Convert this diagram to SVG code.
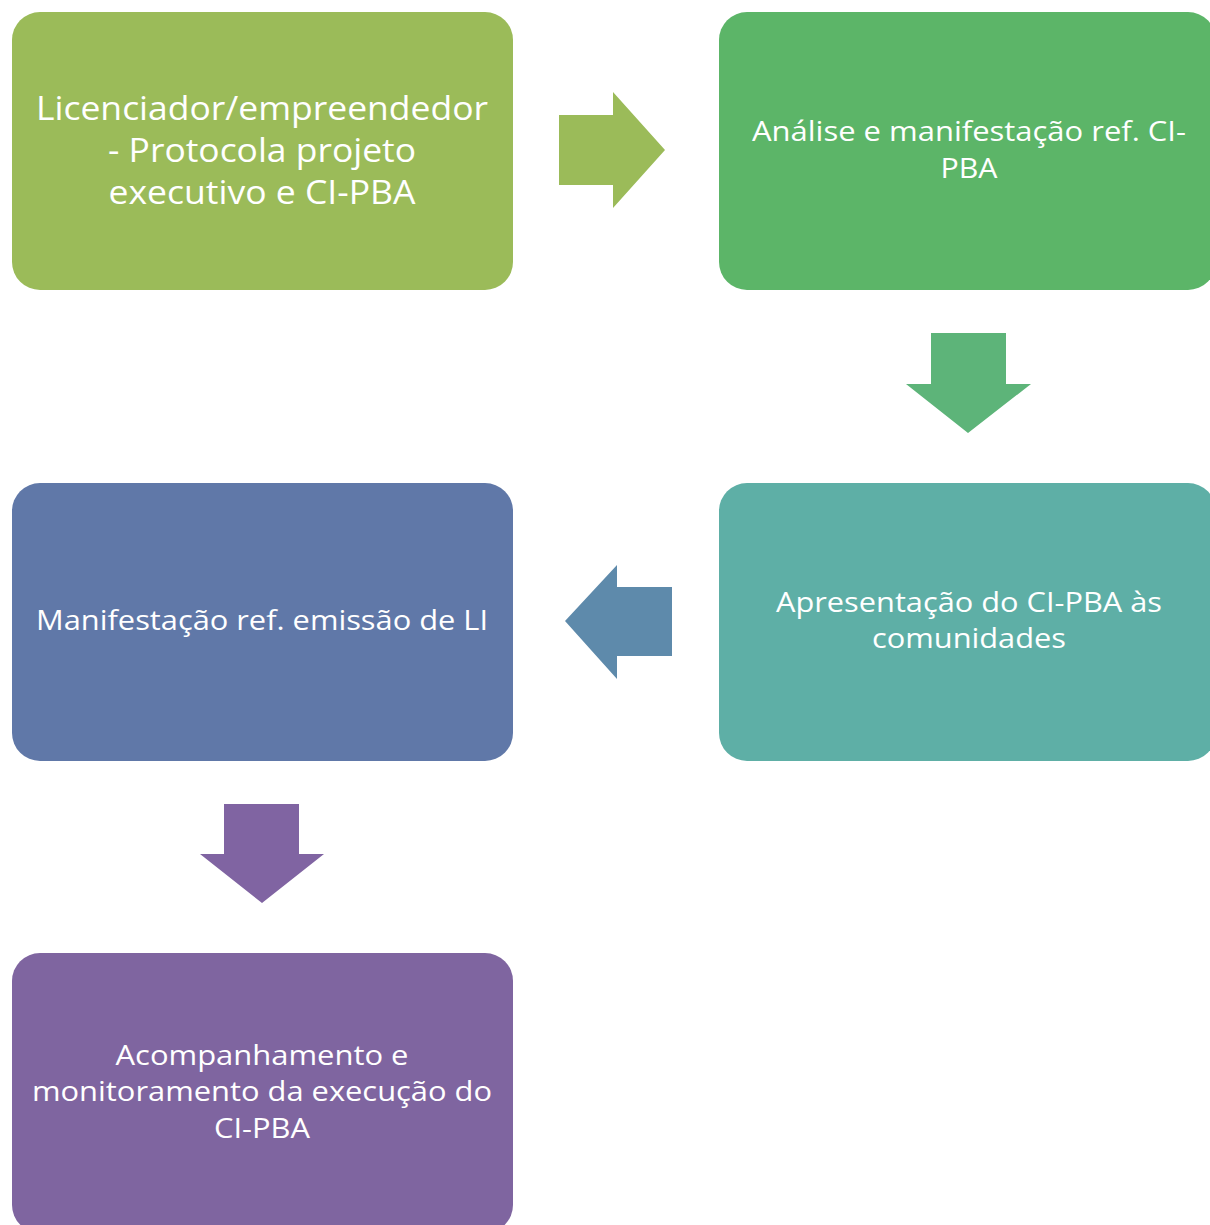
<svg xmlns="http://www.w3.org/2000/svg" width="1210" height="1225" viewBox="0 0 1210 1225">
<style>
.lbl{font-family:"Open Sans","Noto Sans","DejaVu Sans",sans-serif;fill:#ffffff;text-anchor:middle;font-size:27px}
.big{font-size:32px}
</style>
<rect width="1210" height="1225" fill="#ffffff"/>
<g id="connectors">
<polygon id="arrow-1-2" points="559,115 613,115 613,92 665,150 613,208 613,185 559,185" fill="#9BBB59"/>
<polygon id="arrow-2-3" points="931,333 1006,333 1006,384 1031,384 968,433 906,384 931,384" fill="#5DB479"/>
<polygon id="arrow-3-4" points="565,621 617,565 617,587 672,587 672,656 617,656 617,679" fill="#5E8AAB"/>
<polygon id="arrow-4-5" points="224,804 299,804 299,854 324,854 262,903 200,854 224,854" fill="#8064A2"/>
</g>
<g id="node-1">
<rect x="12" y="12" width="501" height="278" rx="28" fill="#9BBB59"/>
<text class="lbl big" x="262" y="120" textLength="452" lengthAdjust="spacingAndGlyphs">Licenciador/empreendedor</text>
<text class="lbl big" x="262" y="162" textLength="308" lengthAdjust="spacingAndGlyphs">- Protocola projeto</text>
<text class="lbl big" x="262" y="204" textLength="307" lengthAdjust="spacingAndGlyphs">executivo e CI-PBA</text>
</g>
<g id="node-2">
<rect x="719" y="12" width="497" height="278" rx="28" fill="#5CB568"/>
<text class="lbl" x="969" y="141" textLength="434" lengthAdjust="spacingAndGlyphs">Análise e manifestação ref. CI-</text>
<text class="lbl" x="969" y="178" textLength="57" lengthAdjust="spacingAndGlyphs">PBA</text>
</g>
<g id="node-3">
<rect x="719" y="483" width="497" height="278" rx="28" fill="#5EAFA6"/>
<text class="lbl" x="969" y="612" textLength="386" lengthAdjust="spacingAndGlyphs">Apresentação do CI-PBA às</text>
<text class="lbl" x="969" y="648" textLength="194" lengthAdjust="spacingAndGlyphs">comunidades</text>
</g>
<g id="node-4">
<rect x="12" y="483" width="501" height="278" rx="28" fill="#6078A8"/>
<text class="lbl" x="262" y="630" textLength="452" lengthAdjust="spacingAndGlyphs">Manifestação ref. emissão de LI</text>
</g>
<g id="node-5">
<rect x="12" y="953" width="501" height="280" rx="28" fill="#7F65A0"/>
<text class="lbl" x="262" y="1065" textLength="293" lengthAdjust="spacingAndGlyphs">Acompanhamento e</text>
<text class="lbl" x="262" y="1101" textLength="460" lengthAdjust="spacingAndGlyphs">monitoramento da execução do</text>
<text class="lbl" x="262" y="1138" textLength="96" lengthAdjust="spacingAndGlyphs">CI-PBA</text>
</g>
</svg>
